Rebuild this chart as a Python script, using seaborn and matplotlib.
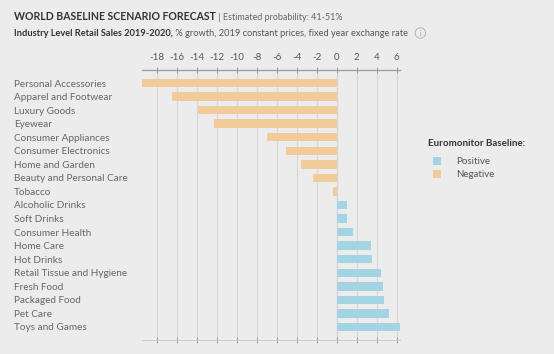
import pandas as pd
import matplotlib.pyplot as plt
import seaborn as sns

categories = ['Personal Accessories', 'Apparel and Footwear', 'Luxury Goods', 'Eyewear',
              'Consumer Appliances', 'Consumer Electronics', 'Home and Garden',
              'Beauty and Personal Care', 'Tobacco', 'Alcoholic Drinks', 'Soft Drinks',
              'Consumer Health', 'Home Care', 'Hot Drinks', 'Retail Tissue and Hygiene',
              'Fresh Food', 'Packaged Food', 'Pet Care', 'Toys and Games']
growth = [-19.5, -16.5, -13.9, -12.3, -7.0, -5.1, -3.6, -2.4, -0.4,
          1.0, 1.0, 1.6, 3.4, 3.5, 4.4, 4.6, 4.75, 5.2, 6.35]
ticks = [-18, -16, -14, -12, -10, -8, -6, -4, -2, 0, 2, 4, 6]

df = pd.DataFrame({'category': categories, 'growth': growth})
df['baseline'] = ['Positive' if g > 0 else 'Negative' for g in df['growth']]

sns.set_style('white')
plt.rcParams['font.family'] = ['Lato', 'DejaVu Sans']

bg = '#ececec'
fig = plt.figure(figsize=(5.54, 3.54), dpi=100, facecolor=bg)
ax = fig.add_axes([142 / 554, 1 - 340 / 354, 258 / 554, 270 / 354])
ax.set_facecolor(bg)

sns.barplot(data=df, y='category', x='growth', hue='baseline', orient='h',
            hue_order=['Positive', 'Negative'],
            palette={'Positive': '#a3d4e3', 'Negative': '#f2cb9a'},
            width=0.62, dodge=False, saturation=1, linewidth=0, ax=ax)

ax.set_xlim(-19.5, 6.35)
ax.set_ylim(18.96, -0.96)
ax.set_xticks(ticks)
ax.set_xticklabels([str(t) for t in ticks])
ax.xaxis.tick_top()
ax.grid(axis='x', color='#d6d6d6', lw=0.8)
ax.set_axisbelow(True)
ax.axvline(0, color='#b5b5b5', lw=0.8, zorder=0.5)
ax.set_xlabel('')
ax.set_ylabel('')

ax.tick_params(axis='x', which='both', top=True, bottom=True, direction='inout',
               length=5, width=0.7, color='#9a9aa5', labelsize=7, labelcolor='#555555', pad=3)
ax.tick_params(axis='y', length=0, labelsize=7.2, labelcolor='#666666', pad=128 * 0.72)
for lbl in ax.get_yticklabels():
    lbl.set_horizontalalignment('left')

for s in ['left', 'right']:
    ax.spines[s].set_visible(False)
ax.spines['top'].set_color('#9a9aa5')
ax.spines['top'].set_linewidth(0.9)
ax.spines['bottom'].set_color('#c8c8c8')
ax.spines['bottom'].set_linewidth(0.7)

# legend: title as separate text so the gap above the entries matches
leg = ax.legend(loc='upper left', bbox_to_anchor=(424 / 554, 1 - 148 / 354),
                bbox_transform=fig.transFigure, frameon=False, fontsize=7,
                handlelength=0.8, handleheight=0.9, handletextpad=1.6, labelspacing=0.35)
for t in leg.get_texts():
    t.set_color('#555555')
fig.text(428 / 554, 1 - 143 / 354, 'Euromonitor Baseline:', fontsize=7, fontweight='bold',
         color='#333333', va='center', ha='left')

t1 = fig.text(14 / 554, 1 - 17 / 354, 'WORLD BASELINE SCENARIO FORECAST', fontsize=7.6,
              fontweight='bold', color='#333333', va='center', ha='left')
ax.annotate(' | Estimated probability: 41-51%', xy=(1, 0), xycoords=t1, va='bottom',
            ha='left', fontsize=6.5, color='#666666', annotation_clip=False)
t2 = fig.text(14 / 554, 1 - 33 / 354, 'Industry Level Retail Sales 2019-2020,', fontsize=6.7,
              fontweight='bold', color='#333333', va='center', ha='left')
t3 = ax.annotate(' % growth, 2019 constant prices, fixed year exchange rate', xy=(1, 0),
                 xycoords=t2, va='bottom', ha='left', fontsize=6.7, color='#555555',
                 annotation_clip=False)
ax.annotate('i', xy=(1, 0.5), xycoords=t3, xytext=(9, 0), textcoords='offset points',
            va='center', ha='center', fontsize=5, color='#999999', annotation_clip=False,
            bbox=dict(boxstyle='circle,pad=0.25', fc='none', ec='#aaaaaa', lw=0.6))

fig.savefig('out.png', dpi=100, facecolor=bg)
